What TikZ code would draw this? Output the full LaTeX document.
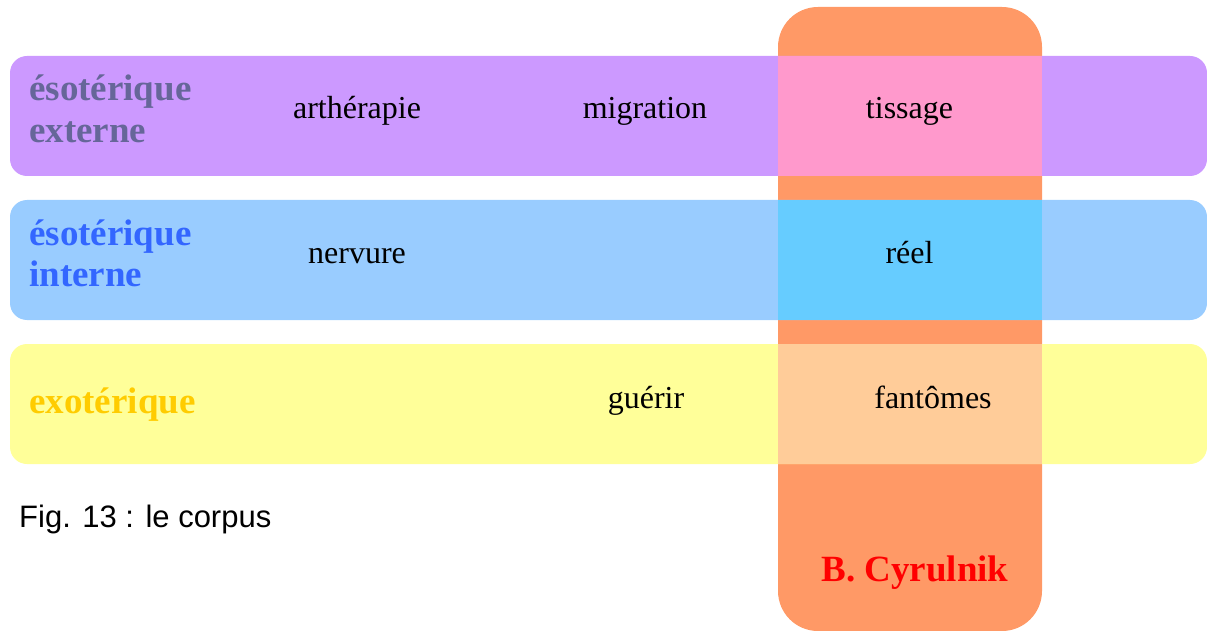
\documentclass[tikz,border=0pt]{standalone}
\usepackage{fontspec}
\setmainfont{Liberation Serif}
\newfontfamily\arialfont{Liberation Sans}
\definecolor{cpurple}{HTML}{CC99FF}
\definecolor{cpink}{HTML}{FF99CC}
\definecolor{corange}{HTML}{FF9966}
\definecolor{cblue}{HTML}{99CCFF}
\definecolor{cblueo}{HTML}{66CCFF}
\definecolor{cyellow}{HTML}{FFFF99}
\definecolor{cpeach}{HTML}{FFCC99}
\definecolor{tgray}{HTML}{666699}
\definecolor{tblue}{HTML}{3366FF}
\definecolor{tgold}{HTML}{FFCC00}
\begin{document}
\begin{tikzpicture}[x=1pt,y=-1pt,
  band/.style={rounded corners=17pt},
  biglab/.style={inner sep=0pt,anchor=base west,font=\fontsize{37}{42}\selectfont\bfseries},
  word/.style={inner sep=0pt,anchor=base,font=\fontsize{32}{38}\selectfont},
  caption/.style={inner sep=0pt,anchor=base west,font=\arialfont\fontsize{31}{36}\selectfont}]
\useasboundingbox (0,0) rectangle (1207,631);
% vertical orange column
\fill[corange,rounded corners=40pt] (778,7) rectangle (1042,631);
% bands
\fill[cpurple,band] (10,56) rectangle (1207,176);
\fill[cblue,band] (10,200) rectangle (1207,320);
\fill[cyellow,band] (10,344) rectangle (1207,464);
% overlaps
\fill[cpink] (778,56) rectangle (1042,176);
\fill[cblueo] (778,200) rectangle (1042,320);
\fill[cpeach] (778,344) rectangle (1042,464);
% labels
\node[biglab,text=tgray] (ext1) at (29,100.5) {ésotérique};
\node[biglab,text=tgray] (ext2) at (29,142.5) {externe};
\node[biglab,text=tblue] (int1) at (29,245) {ésotérique};
\node[biglab,text=tblue] (int2) at (29,286.5) {interne};
\node[biglab,text=tgold] (exo) at (29,413) {exotérique};
\node[word] (arth) at (357,119) {arthérapie};
\node[word] (migr) at (645,119) {migration};
\node[word] (tiss) at (909.5,119) {tissage};
\node[word] (nerv) at (357,263) {nervure};
\node[word] (reel) at (909.5,263) {réel};
\node[word] (guer) at (646,408) {guérir};
\node[word] (fant) at (933,408) {fantômes};
\node[biglab,anchor=base,text=red] (cyr) at (915,581.5) {B. Cyrulnik};
\node[caption] (fig) at (19,527) {Fig. 13 : le corpus};
\end{tikzpicture}
\end{document}
